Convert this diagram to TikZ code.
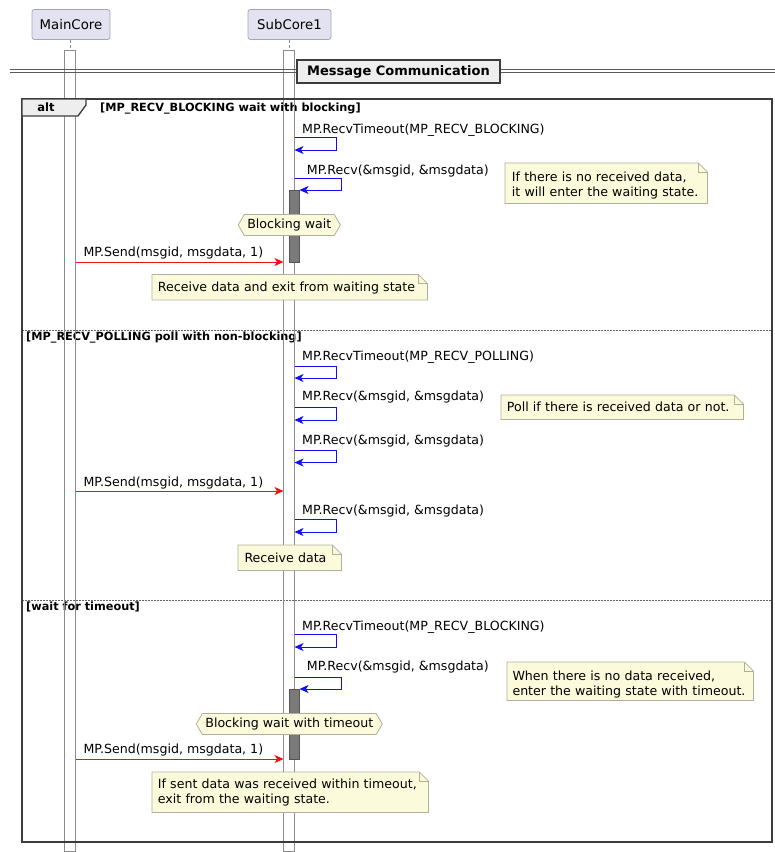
\documentclass[tikz,border=0pt]{standalone}
\usepackage{fontspec}
\setmainfont{DejaVu Sans}
\usetikzlibrary{shapes.symbols,arrows.meta}

\definecolor{partfill}{HTML}{E2E2F0}
\definecolor{partline}{HTML}{A4A4BC}
\definecolor{notefill}{HTML}{FBFBDB}
\definecolor{noteline}{HTML}{B0B09A}
\definecolor{barline}{HTML}{8C8C8C}
\definecolor{actfill}{HTML}{7A7A7A}
\definecolor{framecol}{HTML}{3C3C3C}
\definecolor{tabfill}{HTML}{EEEEEE}
\definecolor{selfblue}{HTML}{1010F0}
\definecolor{sendred}{HTML}{F01010}

\newcommand\msgfont{\fontsize{12.6}{15}\selectfont}
\newcommand\partfont{\fontsize{13.3}{16}\selectfont}
\newcommand\guardfont{\bfseries\fontsize{11.3}{13}\selectfont}
\newcommand\divfont{\bfseries\fontsize{13}{16}\selectfont}

\tikzset{
  partbox/.style={draw=partline, fill=partfill, line width=0.8pt, rounded corners=2.5pt, inner sep=0pt, font=\partfont},
  lifebar/.style={fill=white, inner sep=0pt, minimum width=10pt},
  barrim/.style={draw=barline, line width=0.8pt},
  actbar/.style={draw=barline!60!black, fill=actfill, line width=0.6pt, inner sep=0pt, minimum width=10pt},
  lbl/.style={font=\msgfont, inner sep=0pt, anchor=base west},
  guard/.style={font=\guardfont, inner sep=0pt, anchor=base west},
  tip/.style={-{Stealth[length=9pt,width=8pt,inset=2.5pt]}},
  selfmsg/.style={draw=selfblue, line width=1pt, tip},
  sendmsg/.style={draw=sendred, line width=1pt, tip},
  notegeom/.style={inner sep=0pt, anchor=north west},
  noteframe/.style={draw=noteline, fill=notefill, line width=0.8pt},
  notetext/.style={font=\msgfont, inner sep=0pt, anchor=base west, text width=#1, align=left},
  hexa/.style={signal, signal to=west and east, signal pointer angle=120, draw=noteline, fill=notefill, line width=0.8pt, font=\msgfont, minimum height=21pt, inner xsep=3pt, inner ysep=0pt},
  sepline/.style={draw=framecol!80, line width=0.7pt, dash pattern=on 1.5pt off 1.5pt},
}

% note with folded corner: name, x, y, width, height, text x, first baseline, text
\newcommand\notebox[8]{%
  \node[notegeom, minimum width=#4, minimum height=#5] (#1) at (#2,#3) {};
  \path[noteframe] (#1.north west) -- ([xshift=-9pt]#1.north east) -- ([yshift=-9pt]#1.north east)
    -- (#1.south east) -- (#1.south west) -- cycle;
  \draw[draw=noteline, line width=0.8pt] ([xshift=-9pt]#1.north east) |- ([yshift=-9pt]#1.north east);
  \node[notetext=#4] (#1-t) at (#6,#7) {#8};
}

\begin{document}
\begin{tikzpicture}[x=1pt,y=-1pt]
\useasboundingbox (0,0) rectangle (775,852);

% participants
\node[partbox, minimum width=78pt, minimum height=30pt] (main) at (71,24.5) {MainCore};
\node[partbox, minimum width=83pt, minimum height=30pt] (sub) at (289.5,24.5) {SubCore1};

% lifeline bodies (white), guards on top, then the lifeline rims
\node[lifebar, minimum height=801pt, anchor=north] (mainbar) at (70,50) {};
\node[lifebar, minimum height=801pt, anchor=north] (subbar) at (289,50) {};

\node[guard] (g1) at (100,111.7) {[MP\_RECV\_BLOCKING wait with blocking]};
\node[guard] (g2) at (26,340.7) {[MP\_RECV\_POLLING poll with non-blocking]};
\node[guard] (g3) at (26,610.7) {[wait for timeout]};
\draw[sepline] (22,330) -- (772,330);
\draw[sepline] (22,600) -- (772,600);

\draw[barrim] (mainbar.north west) rectangle (mainbar.south east);
\draw[barrim] (subbar.north west) rectangle (subbar.south east);
\draw[barline, line width=0.8pt, dash pattern=on 3pt off 2pt] (mainbar.north |- main.south) -- (mainbar.north);
\draw[barline, line width=0.8pt, dash pattern=on 3pt off 2pt] (subbar.north |- sub.south) -- (subbar.north);

% alt frame
\draw[framecol, line width=1.3pt] (22,99) rectangle (772,842);
\filldraw[fill=tabfill, draw=framecol, line width=1.3pt] (22,99) -- (86,99) -- (86,105) -- (78,116) -- (22,116) -- cycle;
\node[font=\bfseries\fontsize{11.5}{14}\selectfont, inner sep=0pt, anchor=base] (alt) at (46,111.7) {alt};

% divider
\draw[framecol!85, line width=1pt] (10,69.6) -- (775,69.6);
\draw[framecol!85, line width=1pt] (10,72.8) -- (775,72.8);
\node[draw=framecol, fill=tabfill, line width=1.6pt, minimum width=203pt, minimum height=23pt, inner sep=0pt, font=\divfont] (div) at (398.5,71.5) {Message Communication};

% ---- blocking ----
\coordinate (a1) at (294.5,137.5); \coordinate (b1) at (294.5,150);
\draw[selfmsg] (a1) -- ++(42,0) |- (b1);
\node[lbl] (l1) at (302,133) {MP.RecvTimeout(MP\_RECV\_BLOCKING)};
\coordinate (a2) at (294.5,178); \coordinate (b2) at (299.5,190);
\node[actbar, minimum height=72pt, anchor=north] (act1) at (294,190) {};
\draw[selfmsg] (a2) -- ++(46.5,0) |- (b2);
\node[lbl] (l2) at (306.7,174) {MP.Recv(\&msgid, \&msgdata)};
\node[hexa] (w1) at (289.3,225) {Blocking wait};
\coordinate (s1a) at (75.5,262); \coordinate (s1b) at (283.5,262);
\draw[sendmsg] (s1a) -- (s1b);
\node[lbl] (l3) at (83.3,256.7) {MP.Send(msgid, msgdata, 1)};
\notebox{n1}{505}{163}{202pt}{40pt}{511.7}{181}{If there is no received data,\\it will enter the waiting state.}
\notebox{n2}{152}{274.5}{275pt}{25pt}{157.7}{291.7}{Receive data and exit from waiting state}

% ---- polling ----
\coordinate (a4) at (294.5,366); \coordinate (b4) at (294.5,378);
\draw[selfmsg] (a4) -- ++(42,0) |- (b4);
\node[lbl] (l4) at (302,360.7) {MP.RecvTimeout(MP\_RECV\_POLLING)};
\coordinate (a5) at (294.5,407.5); \coordinate (b5) at (294.5,420);
\draw[selfmsg] (a5) -- ++(42,0) |- (b5);
\node[lbl] (l5) at (302,400) {MP.Recv(\&msgid, \&msgdata)};
\coordinate (a6) at (294.5,450); \coordinate (b6) at (294.5,462.5);
\draw[selfmsg] (a6) -- ++(42,0) |- (b6);
\node[lbl] (l6) at (302,444) {MP.Recv(\&msgid, \&msgdata)};
\coordinate (s2a) at (75.5,491); \coordinate (s2b) at (283.5,491);
\draw[sendmsg] (s2a) -- (s2b);
\node[lbl] (l7) at (83.3,486) {MP.Send(msgid, msgdata, 1)};
\coordinate (a8) at (294.5,519.5); \coordinate (b8) at (294.5,532);
\draw[selfmsg] (a8) -- ++(42,0) |- (b8);
\node[lbl] (l8) at (302,514) {MP.Recv(\&msgid, \&msgdata)};
\notebox{n3}{501}{395}{242pt}{24pt}{506.7}{411.7}{Poll if there is received data or not.}
\notebox{n4}{238}{545}{103pt}{25pt}{244.3}{562.7}{Receive data}

% ---- timeout ----
\coordinate (a9) at (294.5,634.5); \coordinate (b9) at (294.5,647);
\draw[selfmsg] (a9) -- ++(42,0) |- (b9);
\node[lbl] (l9) at (302,630.7) {MP.RecvTimeout(MP\_RECV\_BLOCKING)};
\coordinate (a10) at (294.5,677); \coordinate (b10) at (299.5,689);
\node[actbar, minimum height=70pt, anchor=north] (act2) at (294,689) {};
\draw[selfmsg] (a10) -- ++(46.5,0) |- (b10);
\node[lbl] (l10) at (306.7,670.7) {MP.Recv(\&msgid, \&msgdata)};
\node[hexa] (w2) at (289.3,724) {Blocking wait with timeout};
\coordinate (s3a) at (75.5,759); \coordinate (s3b) at (283.5,759);
\draw[sendmsg] (s3a) -- (s3b);
\node[lbl] (l11) at (83.3,753) {MP.Send(msgid, msgdata, 1)};
\notebox{n5}{507}{662}{246pt}{38pt}{512.3}{680}{When there is no data received,\\enter the waiting state with timeout.}
\notebox{n6}{152}{772}{276pt}{40pt}{157.7}{788}{If sent data was received within timeout,\\exit from the waiting state.}
\end{tikzpicture}
\end{document}
